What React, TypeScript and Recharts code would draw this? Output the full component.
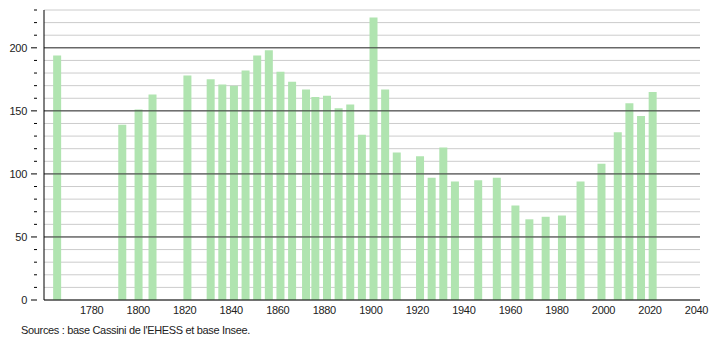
import { BarChart, Bar, XAxis, YAxis, CartesianGrid, ReferenceLine } from 'recharts';

const years = [
  1765, 1793, 1800, 1806, 1821, 1831, 1836, 1841, 1846, 1851, 1856, 1861, 1866,
  1872, 1876, 1881, 1886, 1891, 1896, 1901, 1906, 1911, 1921, 1926, 1931, 1936,
  1946, 1954, 1962, 1968, 1975, 1982, 1990, 1999, 2006, 2011, 2016, 2021,
];
const population = [
  194, 139, 151, 163, 178, 175, 171, 170, 182, 194, 198, 181, 173,
  167, 161, 162, 152, 155, 131, 224, 167, 117, 114, 97, 121, 94,
  95, 97, 75, 64, 66, 67, 94, 108, 133, 156, 146, 165,
];
const xTicks = [1780, 1800, 1820, 1840, 1860, 1880, 1900, 1920, 1940, 1960, 1980, 2000, 2020, 2040];
const yTicks = [0, 10, 20, 30, 40, 50, 60, 70, 80, 90, 100, 110, 120, 130, 140, 150, 160, 170, 180, 190, 200, 210, 220, 230];
const majorTicks = [50, 100, 150, 200];

const data = years.map((year, i) => ({ year, pop: population[i] }));

const font = '"Liberation Sans", Arial, sans-serif';

function YTick(props: any) {
  const { x, y, payload } = props;
  const major = payload.value % 50 === 0;
  return (
    <g>
      <line x1={x - (major ? 5 : 2)} x2={x + 1} y1={y} y2={y} stroke="#000" strokeWidth={1} />
      {major && (
        <text x={x - 9} y={y} dy={4} textAnchor="end" fontSize={11} fill="#222" fontFamily={font} letterSpacing={-0.3}>
          {payload.value}
        </text>
      )}
    </g>
  );
}

export default function App() {
  return (
    <div style={{ position: 'absolute', left: 0, top: 0, width: 710, height: 340, background: '#fff' }}>
      <BarChart width={710} height={340} data={data} margin={{ top: 10, right: 10, bottom: 20, left: 0 }}>
        <CartesianGrid horizontal vertical={false} stroke="#cccccc" strokeWidth={1} />
        {majorTicks.map((v) => (
          <ReferenceLine key={v} y={v} stroke="#333" strokeWidth={1} />
        ))}
        <XAxis
          type="number"
          dataKey="year"
          domain={[1759.5, 2041.5]}
          ticks={xTicks}
          allowDataOverflow
          tickLine={false}
          axisLine={{ stroke: '#000' }}
          tick={{ fontSize: 11, fill: '#222', fontFamily: font, letterSpacing: -0.3 }}
          tickMargin={0}
          height={20}
        />
        <YAxis
          type="number"
          domain={[0, 230]}
          ticks={yTicks}
          interval={0}
          width={44}
          tickLine={false}
          axisLine={{ stroke: '#000' }}
          tick={<YTick />}
        />
        <Bar dataKey="pop" fill="#b0e4b0" barSize={8} isAnimationActive={false} />
      </BarChart>
      <div
        style={{
          position: 'absolute',
          left: 21,
          top: 324,
          fontFamily: font,
          fontSize: 11,
          letterSpacing: -0.33,
          color: '#222',
        }}
      >
        Sources : base Cassini de l'EHESS et base Insee.
      </div>
    </div>
  );
}
